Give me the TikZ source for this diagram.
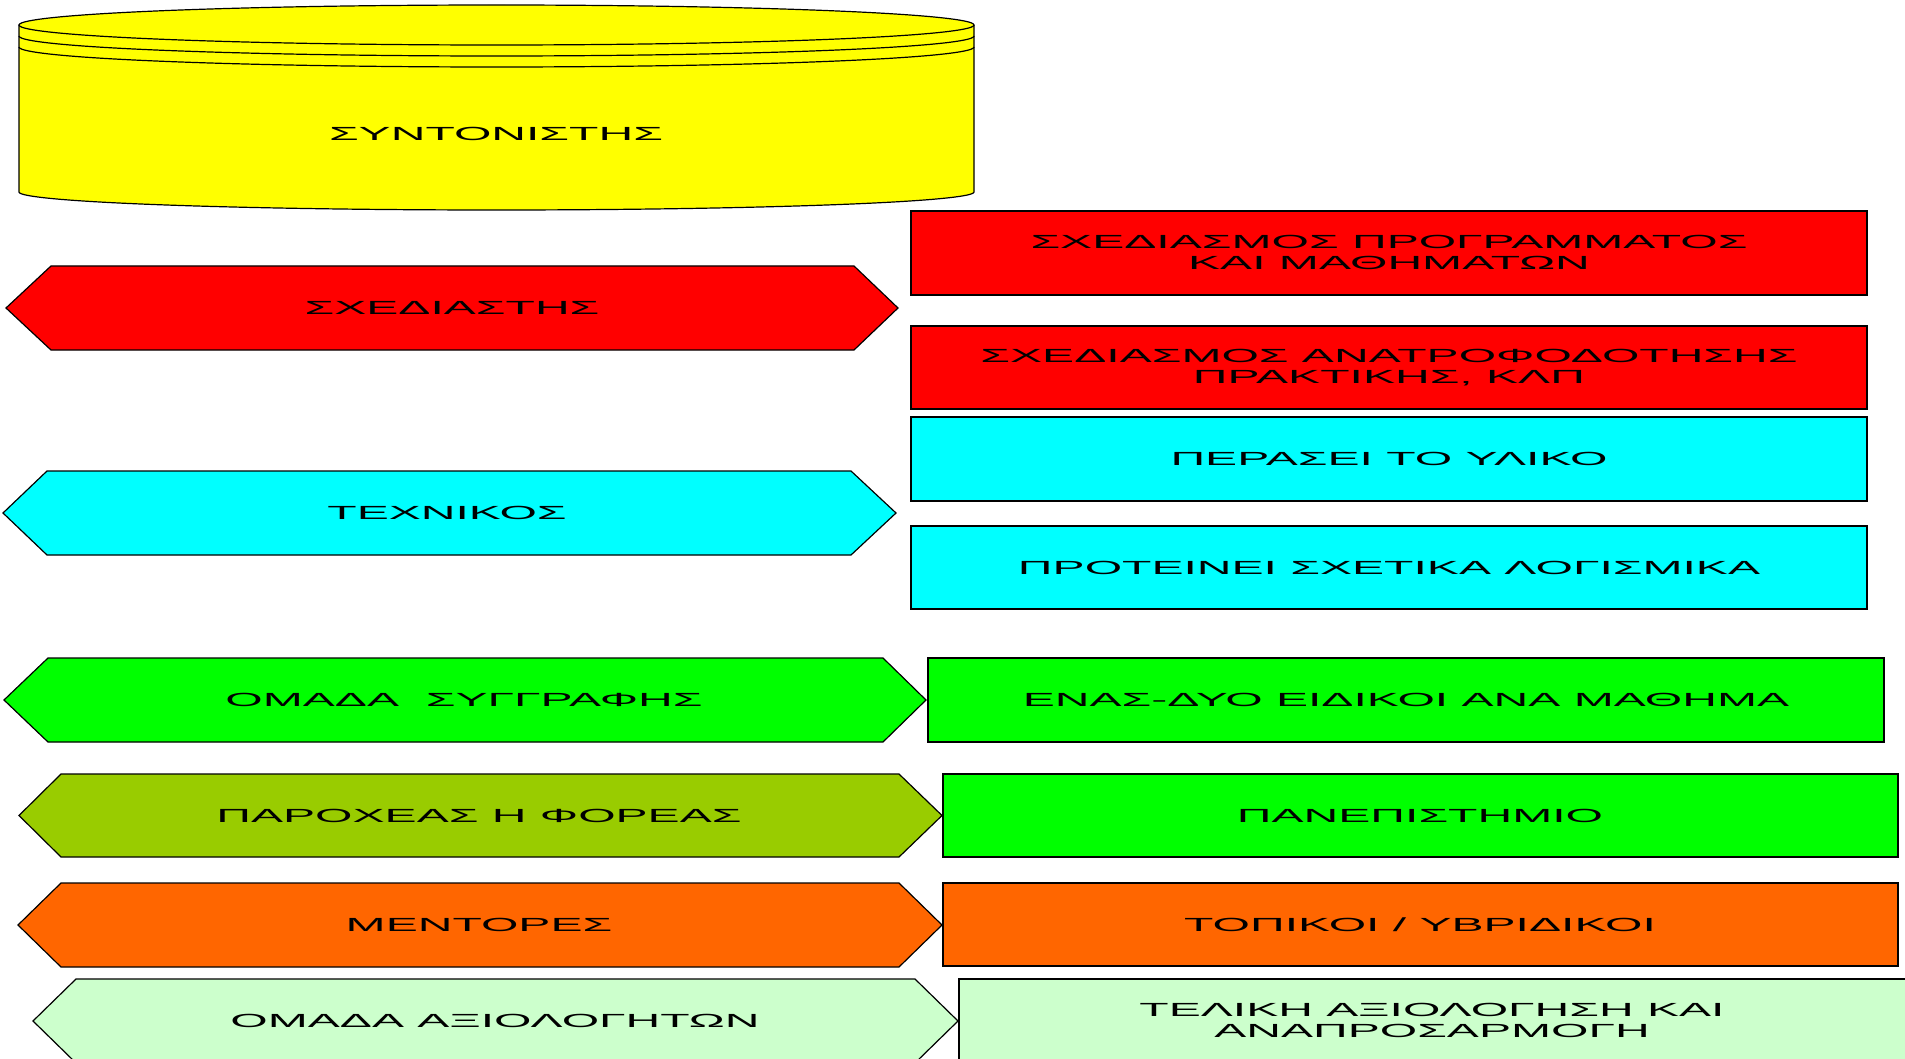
\documentclass[tikz,border=0pt]{standalone}
\usepackage{fontspec}
\setmainfont{Liberation Sans}
\usepackage{graphicx}
\definecolor{cylY}{HTML}{FFFF00}
\definecolor{cRed}{HTML}{FF0000}
\definecolor{cCyan}{HTML}{00FFFF}
\definecolor{cGreen}{HTML}{00FF00}
\definecolor{cOlive}{HTML}{99CC00}
\definecolor{cOrange}{HTML}{FF6600}
\definecolor{cLight}{HTML}{CCFFCC}
\newcommand\lbl[1]{\scalebox{2.53}[1]{\fontsize{19}{20.5}\selectfont\begin{tabular}{@{}c@{}}#1\end{tabular}}}
\newcommand\hexa[7]{% L cl cr R top bot colour
  \filldraw[shape line, fill=#7] (#1,{(#5+#6)/2}) -- (#2,#5) -- (#3,#5) -- (#4,{(#5+#6)/2}) -- (#3,#6) -- (#2,#6) -- cycle;}
\newcommand\boxr[5]{% x1 y1 x2 y2 colour
  \filldraw[shape line, fill=#5] (#1,#2) rectangle (#3,#4);}
\tikzset{shape line/.style={draw=black, line width=1.2pt, line join=miter},
  lab/.style={inner sep=0pt, text=black, anchor=center}}
\begin{document}
\begin{tikzpicture}[x=1pt,y=-1pt]
\useasboundingbox (0,0) rectangle (1905,1059);
\clip (0,0) rectangle (1905,1059);
% cylinder
\filldraw[shape line, fill=cylY] (19,25) -- (19,192)
  -- plot[domain=180:0, samples=90] ({496.5+477.5*cos(\x)},{192+18*sin(\x)})
  -- (974,25)
  -- plot[domain=0:-180, samples=90] ({496.5+477.5*cos(\x)},{25+20*sin(\x)}) -- cycle;
\foreach \c in {25,36,47}
  \draw[shape line] plot[domain=180:0, samples=90] ({496.5+477.5*cos(\x)},{\c+20*sin(\x)});
\node[lab] (coord) at (496,136) {\lbl{ΣΥΝΤΟΝΙΣΤΗΣ}};
% left hexagons
\hexa{6}{51}{854}{898}{266}{350}{cRed}
\node[lab] (design) at (452,310) {\lbl{ΣΧΕΔΙΑΣΤΗΣ}};
\hexa{3}{47}{851}{896}{471}{555}{cCyan}
\node[lab] (tech) at (447,515) {\lbl{ΤΕΧΝΙΚΟΣ}};
\hexa{4}{48}{883}{926}{658}{742}{cGreen}
\node[lab] (write) at (464,702) {\lbl{ΟΜΑΔΑ\ \ ΣΥΓΓΡΑΦΗΣ}};
\hexa{19}{61}{899}{942}{774}{857}{cOlive}
\node[lab] (prov) at (479,818) {\lbl{ΠΑΡΟΧΕΑΣ Η ΦΟΡΕΑΣ}};
\hexa{18}{61}{899}{942}{883}{967}{cOrange}
\node[lab] (ment) at (479,927) {\lbl{ΜΕΝΤΟΡΕΣ}};
\hexa{33}{76}{915}{958}{979}{1063}{cLight}
\node[lab] (eval) at (495,1023) {\lbl{ΟΜΑΔΑ ΑΞΙΟΛΟΓΗΤΩΝ}};
% right boxes
\boxr{911}{211}{1867}{295}{cRed}
\node[lab] (r1) at (1389,255) {\lbl{ΣΧΕΔΙΑΣΜΟΣ ΠΡΟΓΡΑΜΜΑΤΟΣ\\ΚΑΙ ΜΑΘΗΜΑΤΩΝ}};
\boxr{911}{326}{1867}{409}{cRed}
\node[lab] (r2) at (1389,369) {\lbl{ΣΧΕΔΙΑΣΜΟΣ ΑΝΑΤΡΟΦΟΔΟΤΗΣΗΣ\\ΠΡΑΚΤΙΚΗΣ, ΚΛΠ}};
\boxr{911}{417}{1867}{501}{cCyan}
\node[lab] (r3) at (1389,461) {\lbl{ΠΕΡΑΣΕΙ ΤΟ ΥΛΙΚΟ}};
\boxr{911}{526}{1867}{609}{cCyan}
\node[lab] (r4) at (1389,570) {\lbl{ΠΡΟΤΕΙΝΕΙ ΣΧΕΤΙΚΑ ΛΟΓΙΣΜΙΚΑ}};
\boxr{928}{658}{1884}{742}{cGreen}
\node[lab] (r5) at (1406,702) {\lbl{ΕΝΑΣ-ΔΥΟ ΕΙΔΙΚΟΙ ΑΝΑ ΜΑΘΗΜΑ}};
\boxr{943}{774}{1898}{857}{cGreen}
\node[lab] (r6) at (1420,818) {\lbl{ΠΑΝΕΠΙΣΤΗΜΙΟ}};
\boxr{943}{883}{1898}{966}{cOrange}
\node[lab] (r7) at (1420,927) {\lbl{ΤΟΠΙΚΟΙ / ΥΒΡΙΔΙΚΟΙ}};
\boxr{959}{979}{1914}{1063}{cLight}
\node[lab] (r8) at (1432,1023) {\lbl{ΤΕΛΙΚΗ ΑΞΙΟΛΟΓΗΣΗ ΚΑΙ\\ΑΝΑΠΡΟΣΑΡΜΟΓΗ}};
\end{tikzpicture}
\end{document}
